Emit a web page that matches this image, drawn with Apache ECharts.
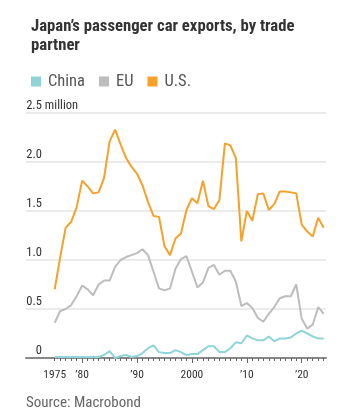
<!DOCTYPE html>
<html>
<head>
<meta charset="utf-8">
<script src="https://cdn.jsdelivr.net/npm/echarts@6/dist/echarts.min.js"></script>
<style>
html,body{margin:0;padding:0;background:#fff;}
#chart{width:352px;height:420px;}
</style>
</head>
<body>
<div id="chart"></div>
<script>
var years = [1975,1976,1977,1978,1979,1980,1981,1982,1983,1984,
             1985,1986,1987,1988,1989,1990,1991,1992,1993,1994,
             1995,1996,1997,1998,1999,2000,2001,2002,2003,2004,
             2005,2006,2007,2008,2009,2010,2011,2012,2013,2014,
             2015,2016,2017,2018,2019,2020,2021,2022,2023,2024];
var china = [0.01,0.01,0.01,0.01,0.01,0.01,0.01,0.01,0.01,0.03,
             0.07,0.00,0.02,0.03,0.01,0.02,0.05,0.10,0.13,0.06,
             0.05,0.05,0.08,0.06,0.03,0.04,0.04,0.08,0.12,0.12,
             0.06,0.06,0.10,0.16,0.15,0.23,0.20,0.18,0.18,0.22,
             0.17,0.20,0.20,0.21,0.25,0.28,0.25,0.22,0.20,0.20];
var eu = [0.36,0.48,0.50,0.54,0.63,0.74,0.70,0.64,0.75,0.79,
          0.79,0.93,1.00,1.03,1.05,1.07,1.11,1.05,0.88,0.71,
          0.69,0.71,0.91,1.01,1.04,0.88,0.72,0.77,0.92,0.95,
          0.85,0.89,0.89,0.78,0.53,0.56,0.51,0.41,0.37,0.45,
          0.52,0.61,0.63,0.63,0.75,0.40,0.30,0.34,0.52,0.45];
var us = [0.70,1.03,1.33,1.39,1.54,1.81,1.75,1.68,1.69,1.84,
          2.21,2.33,2.18,2.04,1.95,1.88,1.76,1.59,1.45,1.44,
          1.14,1.05,1.22,1.27,1.51,1.63,1.58,1.81,1.55,1.52,
          1.61,2.19,2.17,2.04,1.19,1.50,1.40,1.67,1.68,1.51,
          1.57,1.70,1.70,1.69,1.68,1.36,1.29,1.24,1.43,1.33];
var seriesNames = ['China','EU','U.S.'];
var xLabelYears = [1975,1980,1990,2000,2010,2020];
var decadeTicks = [1980,1990,2000,2010,2020];

var FONT = '"Roboto Condensed","Open Sans Condensed",sans-serif';
var colors = {'China':'#8fd4d9','EU':'#bdbdbd','U.S.':'#f7a12a'};

function pairs(vals){ return years.map(function(y,i){ return [y, vals[i]]; }); }

var chart = echarts.init(document.getElementById('chart'), null, {renderer:'canvas'});
chart.setOption({
  animation:false,
  backgroundColor:'#fff',
  title:{
    text:'Japan\u2019s passenger car exports, by trade\npartner',
    left:26, top:12,
    textStyle:{fontFamily:FONT,fontSize:16.7,fontWeight:'bold',color:'#333',lineHeight:19}
  },
  legend:{
    left:26, top:68,
    icon:'rect', itemWidth:10, itemHeight:10, itemGap:14,
    textStyle:{fontFamily:FONT,fontSize:16.5,color:'#555',padding:[0,0,0,2]},
    data:seriesNames
  },
  graphic:[{
    type:'text', left:26, top:396,
    style:{text:'Source: Macrobond', font:'15px '+FONT, fill:'#666'}
  }],
  grid:{left:26,right:26,top:113,bottom:62,outerBoundsMode:'none'},
  xAxis:[{
    type:'value', min:1969.77, max:2024.42,
    axisLine:{show:true,lineStyle:{color:'#888',width:2}},
    splitLine:{show:false},
    axisTick:{show:true,length:3,lineStyle:{color:'#666',width:1},customValues:years},
    axisLabel:{
      customValues:xLabelYears, margin:11,
      fontFamily:FONT,fontSize:11.5,color:'#333',
      formatter:function(v){ return (v===1975||v===2000)? String(v) : '\u2019'+String(v).slice(2); }
    }
  },{
    type:'value', min:1969.77, max:2024.42, position:'bottom',
    axisLine:{show:false}, splitLine:{show:false}, axisLabel:{show:false},
    axisTick:{show:true,length:5,lineStyle:{color:'#666',width:1},customValues:decadeTicks}
  }],
  yAxis:{
    type:'value', min:0, max:2.5, interval:0.5,
    axisLine:{show:false}, axisTick:{show:false},
    splitLine:{show:true,lineStyle:{color:'#ebebeb',width:2}},
    axisLabel:{
      inside:true, margin:0, verticalAlign:'bottom', align:'left',
      fontFamily:FONT,fontSize:12.5,color:'#333',lineHeight:14,
      formatter:function(v){
        var s = v===0 ? '0' : v.toFixed(1);
        return v===2.5 ? '{n|'+s+'} million' : '{n|'+s+'}';
      },
      rich:{n:{width:16,align:'right',fontFamily:FONT,fontSize:12.5,color:'#333',lineHeight:14}}
    }
  },
  series:[
    {name:'China',type:'line',data:pairs(china),symbol:'none',color:colors['China'],lineStyle:{width:2},z:2},
    {name:'EU',type:'line',data:pairs(eu),symbol:'none',color:colors['EU'],lineStyle:{width:2},z:3},
    {name:'U.S.',type:'line',data:pairs(us),symbol:'none',color:colors['U.S.'],lineStyle:{width:2},z:4}
  ]
});
</script>
</body>
</html>
